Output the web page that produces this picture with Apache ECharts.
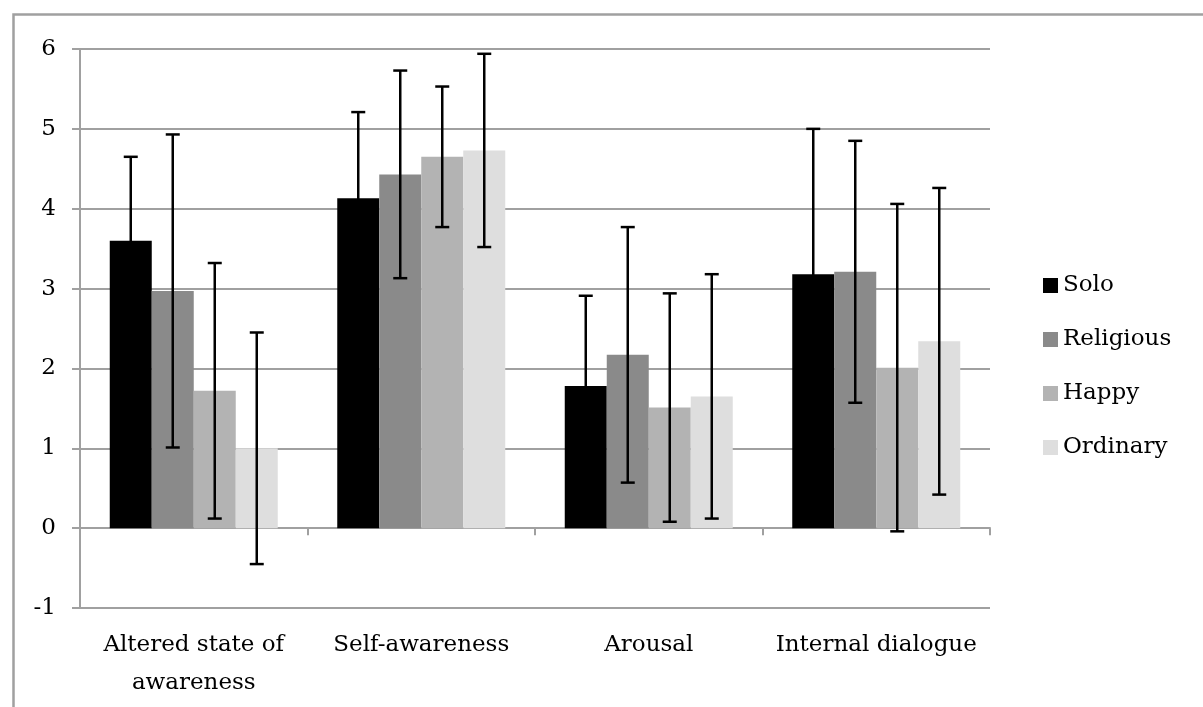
<!DOCTYPE html>
<html><head><meta charset="utf-8">
<script src="https://cdn.jsdelivr.net/npm/echarts@6/dist/echarts.min.js"></script>
<style>html,body{margin:0;padding:0;background:#fff}#c{width:1203px;height:707px}</style>
</head><body><div id="c"></div>
<script>
const categories = ['Altered state of\nawareness', 'Self-awareness', 'Arousal', 'Internal dialogue'];
const seriesNames = ['Solo', 'Religious', 'Happy', 'Ordinary'];
const solo = [3.60, 4.13, 1.78, 3.18];
const religious = [2.97, 4.43, 2.17, 3.21];
const happy = [1.72, 4.65, 1.51, 2.01];
const ordinary = [1.00, 4.73, 1.65, 2.34];
const soloErr = [1.05, 1.08, 1.13, 1.82];
const religiousErr = [1.96, 1.30, 1.60, 1.64];
const happyErr = [1.60, 0.88, 1.43, 2.05];
const ordinaryErr = [1.45, 1.21, 1.53, 1.92];
const yTicks = [-1, 0, 1, 2, 3, 4, 5, 6];

const values = [solo, religious, happy, ordinary];
const errs = [soloErr, religiousErr, happyErr, ordinaryErr];
const colors = ['#000000', '#8a8a8a', '#b3b3b3', '#dedede'];
const BAR_W = 42;
const FONT = 'DejaVu Serif';
const FS = 23;

const chart = echarts.init(document.getElementById('c'));
const series = [];
seriesNames.forEach((n, i) => {
  series.push({
    name: n, type: 'bar', data: values[i], barWidth: BAR_W, barGap: '0%',
    itemStyle: { color: colors[i] }, z: 2
  });
});
seriesNames.forEach((n, i) => {
  const data = values[i].map((v, k) => [k, v - errs[i][k], v + errs[i][k]]);
  series.push({
    type: 'custom', z: 5, silent: true,
    data: data,
    renderItem: function (params, api) {
      const k = api.value(0);
      const lo = api.coord([k, api.value(1)]);
      const hi = api.coord([k, api.value(2)]);
      const x = lo[0] + (i - 1.5) * BAR_W;
      const cap = 7;
      const st = { stroke: '#000', lineWidth: 2.5 };
      return { type: 'group', children: [
        { type: 'line', shape: { x1: x, y1: lo[1], x2: x, y2: hi[1] }, style: st },
        { type: 'line', shape: { x1: x - cap, y1: hi[1], x2: x + cap, y2: hi[1] }, style: st },
        { type: 'line', shape: { x1: x - cap, y1: lo[1], x2: x + cap, y2: lo[1] }, style: st }
      ]};
    },
    encode: { x: 0, y: [1, 2] }
  });
});

chart.setOption({
  animation: false,
  backgroundColor: '#fff',
  graphic: [{ type: 'rect', left: 11, top: 12, shape: { width: 1400, height: 900 },
    style: { fill: 'none', stroke: '#a0a0a0', lineWidth: 2.5 }, z: 0 }],
  grid: { left: 80, top: 49, right: 213, bottom: 99, containLabel: false, outerBoundsMode: 'none' },
  legend: {
    orient: 'vertical', left: 1038, top: 269, itemGap: 31,
    itemWidth: 15, itemHeight: 15, icon: 'rect',
    data: seriesNames,
    textStyle: { fontFamily: FONT, fontSize: FS, color: '#000' }
  },
  xAxis: {
    type: 'category', data: categories,
    axisLine: { onZero: true, lineStyle: { color: '#a0a0a0', width: 2 } },
    axisTick: { show: true, length: 7, lineStyle: { color: '#a0a0a0', width: 2 } },
    axisLabel: { interval: 0, fontFamily: FONT, fontSize: FS, color: '#000', margin: 18, lineHeight: 38, verticalAlign: 'top' }
  },
  yAxis: {
    type: 'value', min: -1, max: 6, interval: 1,
    axisLine: { show: true, lineStyle: { color: '#a0a0a0', width: 2 } },
    axisTick: { show: true, length: 8, lineStyle: { color: '#a0a0a0', width: 2 } },
    splitLine: { lineStyle: { color: '#a0a0a0', width: 2 } },
    axisLabel: { fontFamily: FONT, fontSize: FS, color: '#000', margin: 24,
      formatter: v => yTicks.includes(v) ? String(v) : '' }
  },
  series: series
});
</script></body></html>
